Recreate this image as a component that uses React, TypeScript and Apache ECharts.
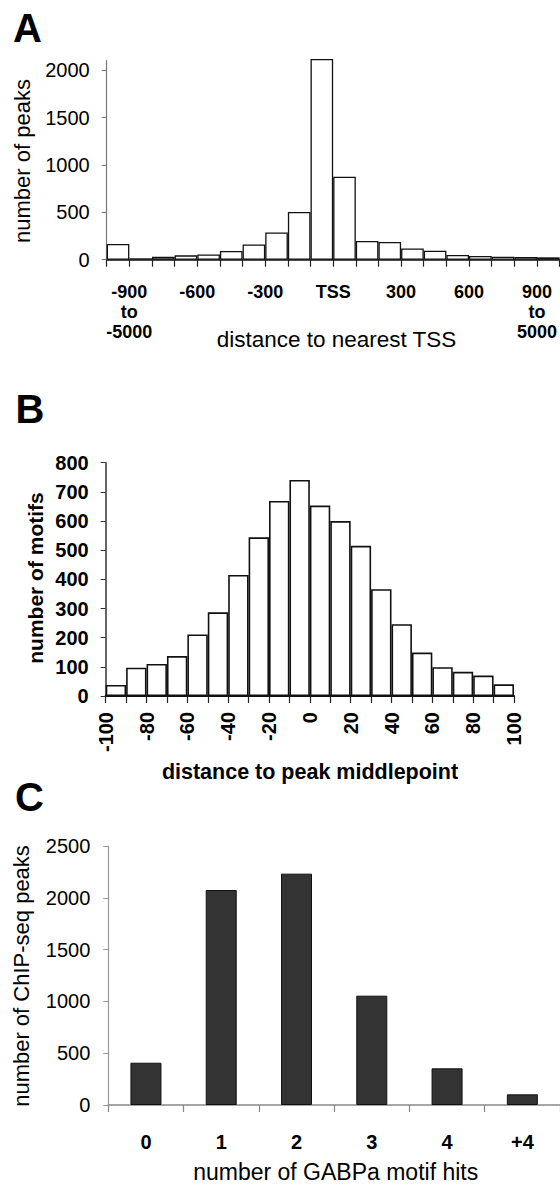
import React, { useEffect, useRef } from 'react';
import * as echarts from 'echarts';

// ---- Panel A: distance to nearest TSS ----
const tssBins = [
  '-5000 to -900', '-900 to -800', '-800 to -700', '-700 to -600', '-600 to -500',
  '-500 to -400', '-400 to -300', '-300 to -200', '-200 to -100', '-100 to 0',
  '0 to 100', '100 to 200', '200 to 300', '300 to 400', '400 to 500',
  '500 to 600', '600 to 700', '700 to 800', '800 to 900', '900 to 5000',
];
const tssPeaks = [166, 15, 30, 46, 55, 92, 160, 288, 503, 2118, 875, 198, 188, 118, 95, 50, 39, 32, 29, 25];
const tssTickPositions = [1, 4, 7, 10, 13, 16, 19];
const tssTickLabels = ['-900\nto\n-5000', '-600', '-300', 'TSS', '300', '600', '900\nto\n5000'];
const tssYTicks = [0, 500, 1000, 1500, 2000];

// ---- Panel B: distance to peak middlepoint ----
const motifBins = [
  '-100 to -90', '-90 to -80', '-80 to -70', '-70 to -60', '-60 to -50',
  '-50 to -40', '-40 to -30', '-30 to -20', '-20 to -10', '-10 to 0',
  '0 to 10', '10 to 20', '20 to 30', '30 to 40', '40 to 50',
  '50 to 60', '60 to 70', '70 to 80', '80 to 90', '90 to 100',
];
const motifCounts = [38, 97, 110, 137, 211, 287, 415, 544, 669, 741, 653, 600, 515, 366, 246, 149, 99, 83, 70, 40];

// ---- Panel C: number of GABPa motif hits ----
const hitCategories = ['0', '1', '2', '3', '4', '+4'];
const hitPeaks = [408, 2075, 2233, 1055, 354, 103];

const FONT = '"Liberation Sans", Arial, Helvetica, sans-serif';
const plain = (v: number) => String(v);

function txt(text: string, x: number, y: number, size: number, weight: string, opts: any = {}) {
  return {
    type: 'text',
    x,
    y,
    rotation: opts.rotation || 0,
    style: {
      text,
      fontSize: size,
      fontWeight: weight,
      fontFamily: FONT,
      fill: '#000',
      align: opts.align || 'center',
      verticalAlign: 'middle',
    },
  };
}

export default function App() {
  const ref = useRef<HTMLDivElement>(null);

  useEffect(() => {
    document.body.style.margin = '0';
    if (!ref.current) return;
    const chart = echarts.init(ref.current, null, { renderer: 'svg' });

    const option: any = {
      animation: false,
      backgroundColor: '#fff',
      textStyle: { fontFamily: FONT },
      grid: [
        { left: 106.7, top: 60.7, width: 453.3, height: 199 },
        { left: 105.7, top: 462.7, width: 408.3, height: 233.3 },
        { left: 108.3, top: 846, width: 455, height: 259 },
      ],
      xAxis: [
        {
          gridIndex: 0, type: 'category', data: tssBins, position: 'bottom', boundaryGap: true,
          axisLine: { show: true, onZero: false, lineStyle: { color: '#111', width: 1.5 } },
          axisTick: { show: true, interval: 0, length: 7, lineStyle: { color: '#222', width: 1.2 } },
          axisLabel: { show: false }, splitLine: { show: false },
        },
        {
          gridIndex: 0, type: 'value', min: 0, max: 20, position: 'bottom',
          axisLine: { show: false, onZero: false }, axisTick: { show: false }, splitLine: { show: false },
          axisLabel: {
            customValues: tssTickPositions,
            formatter: (v: number) => {
              const i = tssTickPositions.indexOf(Math.round(v));
              return i >= 0 ? tssTickLabels[i] : '';
            },
            fontFamily: FONT, fontSize: 18, fontWeight: 'bold', lineHeight: 20, color: '#000', margin: 22,
          },
        },
        {
          gridIndex: 1, type: 'category', data: motifBins, position: 'bottom', boundaryGap: true,
          axisLine: { show: true, onZero: false, lineStyle: { color: '#111', width: 2 } },
          axisTick: { show: true, interval: 0, length: 7, lineStyle: { color: '#222', width: 1.2 } },
          axisLabel: { show: false }, splitLine: { show: false },
        },
        {
          gridIndex: 1, type: 'value', min: -100, max: 100, interval: 20, position: 'bottom',
          axisLine: { show: false, onZero: false }, axisTick: { show: false }, splitLine: { show: false },
          axisLabel: { rotate: 90, formatter: plain, fontFamily: FONT, fontSize: 20, fontWeight: 'bold', color: '#000', margin: 16 },
        },
        {
          gridIndex: 2, type: 'category', data: hitCategories, position: 'bottom', boundaryGap: true,
          axisLine: { show: true, onZero: false, lineStyle: { color: '#888', width: 1.5 } },
          axisTick: { show: true, interval: 0, length: 7, lineStyle: { color: '#888', width: 1.2 } },
          axisLabel: { fontFamily: FONT, fontSize: 20, fontWeight: 'bold', color: '#000', margin: 27 },
          splitLine: { show: false },
        },
      ],
      yAxis: [
        {
          gridIndex: 0, type: 'value', min: 0, max: 2100, position: 'left',
          axisLine: { show: true, onZero: false, lineStyle: { color: '#777', width: 1.2 } },
          axisTick: { show: true, customValues: tssYTicks, length: 5, lineStyle: { color: '#777' } },
          axisLabel: { customValues: tssYTicks, formatter: plain, fontFamily: FONT, fontSize: 20, color: '#000', margin: 17 },
          splitLine: { show: false },
        },
        {
          gridIndex: 1, type: 'value', min: 0, max: 800, interval: 100, position: 'left',
          axisLine: { show: true, onZero: false, lineStyle: { color: '#333', width: 1.5 } },
          axisTick: { show: true, length: 5, lineStyle: { color: '#333' } },
          axisLabel: { formatter: plain, fontFamily: FONT, fontSize: 20, fontWeight: 'bold', color: '#000', margin: 17 },
          splitLine: { show: false },
        },
        {
          gridIndex: 2, type: 'value', min: 0, max: 2500, interval: 500, position: 'left',
          axisLine: { show: true, onZero: false, lineStyle: { color: '#999', width: 1.2 } },
          axisTick: { show: true, length: 5, lineStyle: { color: '#999' } },
          axisLabel: { formatter: plain, fontFamily: FONT, fontSize: 20, color: '#000', margin: 18 },
          splitLine: { show: false },
        },
      ],
      series: [
        {
          type: 'bar', xAxisIndex: 0, yAxisIndex: 0, data: tssPeaks, barCategoryGap: '0%', clip: false,
          itemStyle: { color: '#fff', borderColor: '#111', borderWidth: 1.3 },
        },
        {
          type: 'bar', xAxisIndex: 2, yAxisIndex: 1, data: motifCounts, barCategoryGap: '0%',
          itemStyle: { color: '#fff', borderColor: '#111', borderWidth: 1.6 },
        },
        {
          type: 'bar', xAxisIndex: 4, yAxisIndex: 2, data: hitPeaks, barWidth: 31,
          itemStyle: { color: '#333', borderColor: '#111', borderWidth: 1 },
        },
      ],
      graphic: [
        txt('A', 13, 27.5, 40, 'bold', { align: 'left' }),
        txt('B', 15.5, 408.8, 40, 'bold', { align: 'left' }),
        txt('C', 15, 796.7, 40, 'bold', { align: 'left' }),
        txt('number of peaks', 22.7, 161, 22, 'normal', { rotation: Math.PI / 2 }),
        txt('distance to nearest TSS', 336.5, 339.5, 22.5, 'normal'),
        txt('number of motifs', 35.7, 578, 21, 'bold', { rotation: Math.PI / 2 }),
        txt('distance to peak middlepoint', 310, 771.5, 21.5, 'bold'),
        txt('number of ChIP-seq peaks', 21.7, 976, 22, 'normal', { rotation: Math.PI / 2 }),
        txt('number of GABPa motif hits', 335.7, 1172, 23, 'normal'),
      ],
    };

    chart.setOption(option);
    return () => chart.dispose();
  }, []);

  return <div ref={ref} style={{ width: 560, height: 1187 }} />;
}
